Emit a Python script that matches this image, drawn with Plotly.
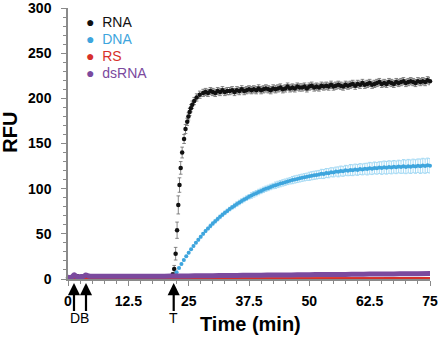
import plotly.graph_objects as go

# ---------------- data ----------------
# RNA: baseline, fast rise, then plateau (RFU, mean and sd)
RNA_T_BASE = [0, 1, 2, 3, 4, 5, 6, 7, 8, 9, 10, 11, 12, 13, 14, 15, 16, 17, 18, 19, 20, 21]
RNA_V_BASE = [1.5, 2, 3, 2, 2.5, 2, 2, 2, 2, 2, 2, 2, 2, 2, 2, 2, 2.5, 2.5, 2.5, 2.5, 3, 3]
RNA_SD_BASE = [1] * 22

RNA_T_RISE = [21.7, 22.0, 22.3, 22.6, 22.85, 23.1, 23.35, 23.65, 24.05, 24.35, 24.7, 24.95,
              25.2, 25.45, 25.75, 26.15, 26.65, 27.3, 28.0]
RNA_V_RISE = [5, 11, 28, 54, 82, 104, 123, 140, 155, 166, 174, 180,
              185, 189, 193, 197, 201, 204, 206]
RNA_SD_RISE = [2, 4, 7, 9, 10, 8, 7, 6, 5, 5, 4, 4, 4, 4, 4, 4, 4, 4, 4]

RNA_T_PLAT = [28.5 + 0.5 * i for i in range(94)]  # instrument read schedule
RNA_V_PLAT = [207, 206, 208, 207, 206, 208, 207, 209, 207, 208,
              208, 209, 207, 209, 208, 210, 208, 209, 210, 209,
              210, 209, 211, 209, 210, 211, 210, 209, 211, 210,
              211, 212, 210, 211, 213, 211, 212, 211, 213, 212,
              212, 213, 211, 213, 214, 212, 213, 212, 214, 213,
              214, 213, 215, 213, 214, 215, 214, 213, 215, 214,
              215, 216, 214, 216, 215, 217, 215, 216, 217, 215,
              216, 217, 218, 216, 217, 216, 218, 217, 216, 218,
              217, 218, 219, 217, 218, 219, 218, 217, 219, 218,
              219, 218, 220, 219]
RNA_SD_PLAT = [4] * 94

# DNA: slower rise (mean, sd)
DNA_T = [22 + 0.5 * i for i in range(107)]  # instrument read schedule
DNA_V = [2.5, 7.4, 12.1, 16.6, 20.9, 25.1, 29.1, 32.9, 36.6, 40.1,
         43.5, 46.8, 50.0, 53.0, 55.9, 58.7, 61.4, 63.9, 66.4, 68.8,
         71.1, 73.3, 75.4, 77.4, 79.3, 81.2, 83.0, 84.7, 86.4, 88.0,
         89.5, 91.0, 92.4, 93.7, 95.0, 96.3, 97.5, 98.7, 99.8, 100.8,
         101.9, 102.9, 103.8, 104.7, 105.6, 106.4, 107.2, 108.0, 108.7, 109.5,
         110.2, 110.8, 111.4, 112.1, 112.6, 113.2, 113.7, 114.3, 114.8, 115.2,
         115.7, 116.4, 116.2, 117.3, 117.1, 118.2, 118.0, 118.9, 118.6, 119.5,
         119.2, 120.3, 119.8, 120.7, 120.4, 121.2, 120.8, 121.7, 121.3, 122.0,
         121.7, 122.6, 122.1, 123.0, 122.5, 123.3, 122.8, 123.6, 123.1, 123.9,
         123.4, 124.2, 123.6, 124.5, 123.9, 124.7, 124.1, 124.9, 124.3, 125.2,
         124.5, 125.4, 124.8, 125.6, 125.0, 125.8, 125.3]
DNA_SD = [1, 1, 1, 1, 1, 1, 1, 1, 1, 1,
          1.5, 1.5, 1.5, 1.5, 1.5, 2, 2, 2, 2, 2,
          2, 2, 2, 2, 2, 2.5, 2.5, 2.5, 2.5, 2.5,
          2.5, 2.5, 3, 3, 3, 3, 3, 3, 3, 3,
          3, 3, 3.5, 3.5, 3.5, 3.5, 3.5, 3.5, 3.5, 4,
          4, 4, 4, 4, 4, 4, 4.5, 4.5, 4.5, 4.5,
          4.5, 5, 5, 5, 5, 5, 5, 5, 5.5, 5.5,
          5.5, 5.5, 5.5, 6, 6, 6, 6, 6, 6, 6,
          6.5, 6.5, 6.5, 6.5, 6.5, 6.5, 7, 7, 7, 7,
          7, 7, 7, 7, 7, 7.5, 7.5, 7.5, 7.5, 7.5,
          7.5, 7.5, 8, 8, 8, 8, 8]

# RS and dsRNA: near-baseline controls
CTRL_T = [0, 0.8, 1.3, 1.8, 2.5, 3.2, 3.7, 4.3, 5, 7.5, 10, 12.5, 15, 17.5, 20, 22.5,
          25, 27.5, 30, 32.5, 35, 37.5, 40, 42.5, 45, 47.5, 50, 52.5, 55, 57.5, 60,
          62.5, 65, 67.5, 70, 72.5, 75]
RS_V = [0.8, 0.8, 0.9, 0.8, 0.8, 0.8, 0.9, 0.8, 0.8, 0.8, 0.8, 0.8, 0.8, 0.8, 0.8, 0.8,
        0.8, 0.8, 0.8, 0.8, 0.8, 0.8, 0.9, 0.9, 0.9, 0.9, 0.9, 0.9, 1.0, 1.0, 1.0,
        1.0, 1.0, 1.0, 1.1, 1.1, 1.1]
DSRNA_V = [1.8, 2.2, 4.6, 2.6, 2.6, 3.0, 4.4, 3.4, 3.0, 3.0, 3.0, 3.0, 3.0, 3.1, 3.1, 3.3,
           3.4, 3.6, 3.7, 3.8, 4.0, 4.1, 4.2, 4.4, 4.5, 4.6, 4.8, 4.9, 5.0, 5.1, 5.3,
           5.4, 5.5, 5.6, 5.8, 5.9, 6.0]

SERIES = ["RNA", "DNA", "RS", "dsRNA"]
COLORS = {"RNA": "#111111", "DNA": "#3ea5dd", "RS": "#d7302a", "dsRNA": "#7b4a9e"}

X_TICKS = [0, 12.5, 25, 37.5, 50, 62.5, 75]
X_TICK_TEXT = ["0", "12.5", "25", "37.5", "50", "62.5", "75"]
Y_TICKS = [0, 50, 100, 150, 200, 250, 300]

ARROWS_DB = [1.24, 3.73]
ARROW_T = 21.9

FONT = "Liberation Sans, Arial, sans-serif"

# ---------------- figure ----------------
fig = go.Figure()

rna_t = RNA_T_BASE + RNA_T_RISE + RNA_T_PLAT
rna_v = RNA_V_BASE + RNA_V_RISE + RNA_V_PLAT
rna_sd = RNA_SD_BASE + RNA_SD_RISE + RNA_SD_PLAT

fig.add_trace(go.Scatter(
    x=rna_t, y=rna_v, mode="markers", name="RNA", cliponaxis=False,
    marker=dict(size=4.5, color=COLORS["RNA"]),
    error_y=dict(type="data", array=rna_sd, color="#6a6a6a", thickness=0.8, width=1.8),
))

fig.add_trace(go.Scatter(
    x=DNA_T, y=DNA_V, mode="markers", name="DNA", cliponaxis=False,
    marker=dict(size=4, color=COLORS["DNA"]),
    error_y=dict(type="data", array=DNA_SD, color="#a6daf4", thickness=1, width=1.5),
))

fig.add_trace(go.Scatter(
    x=CTRL_T, y=RS_V, mode="lines", name="RS", cliponaxis=False,
    line=dict(color=COLORS["RS"], width=2),
))

fig.add_trace(go.Scatter(
    x=CTRL_T, y=DSRNA_V, mode="lines", name="dsRNA", cliponaxis=False,
    line=dict(color=COLORS["dsRNA"], width=5, shape="spline"),
))

annotations = []
# legend (dot + coloured label), stacked in the upper left
for i, s in enumerate(SERIES):
    annotations.append(dict(
        x=0.045, y=(279 - (22 + 17 * i)) / 271, xref="paper", yref="paper",
        xanchor="left", yanchor="middle", showarrow=False,
        text=f"<span style='color:{COLORS[s]}'>●&nbsp; {s}</span>",
        font=dict(family=FONT, size=14, color=COLORS[s]),
    ))

for xa in ARROWS_DB + [ARROW_T]:
    annotations.append(dict(
        x=xa, y=-0.015, xref="x", yref="paper", text=" ", showarrow=True,
        ax=0, ay=30, axref="pixel", ayref="pixel",
        arrowhead=2, arrowsize=1.1, arrowwidth=2.2, arrowcolor="black",
        font=dict(size=1),
    ))
annotations.append(dict(x=sum(ARROWS_DB) / 2, y=-0.145, xref="x", yref="paper", text="DB",
                        showarrow=False, yanchor="middle",
                        font=dict(family=FONT, size=14, color="black")))
annotations.append(dict(x=ARROW_T, y=-0.145, xref="x", yref="paper", text="T",
                        showarrow=False, yanchor="middle",
                        font=dict(family=FONT, size=14, color="black")))
annotations.append(dict(x=0.505, y=-0.165, xref="paper", yref="paper", text="Time (min)",
                        showarrow=False, yanchor="middle",
                        font=dict(family=FONT, size=20, color="black", weight="bold")))
annotations.append(dict(x=-0.160, y=0.54, xref="paper", yref="paper", text="RFU",
                        showarrow=False, textangle=-90, xanchor="center", yanchor="middle",
                        font=dict(family=FONT, size=20, color="black", weight="bold")))

axis_color = "#8a8a8a"
fig.update_layout(
    width=440, height=342,
    margin=dict(l=68, r=10, t=8, b=63),
    paper_bgcolor="white", plot_bgcolor="white",
    font=dict(family=FONT, color="black"),
    showlegend=False,
    annotations=annotations,
    xaxis=dict(
        range=[0, 75], showgrid=False, zeroline=False, automargin=False,
        showline=True, linecolor=axis_color, linewidth=1.5,
        ticks="outside", ticklen=5, tickwidth=1, tickcolor=axis_color,
        tickvals=X_TICKS, ticktext=X_TICK_TEXT, ticklabeloverflow="allow",
        tickfont=dict(family=FONT, size=14, color="black", weight="bold"),
        minor=dict(dtick=2.5, tick0=0, ticks="outside", ticklen=3, tickcolor=axis_color),
        ticklabelstandoff=3,
    ),
    yaxis=dict(
        range=[0, 300], showgrid=False, zeroline=False, automargin=False,
        showline=True, linecolor=axis_color, linewidth=1.5,
        ticks="outside", ticklen=5, tickwidth=1, tickcolor=axis_color,
        tickvals=Y_TICKS, ticklabeloverflow="allow",
        tickfont=dict(family=FONT, size=14, color="black", weight="bold"),
        minor=dict(dtick=10, tick0=0, ticks="outside", ticklen=3, tickcolor=axis_color),
        ticklabelstandoff=7,
    ),
)

fig.write_html("out.html")
